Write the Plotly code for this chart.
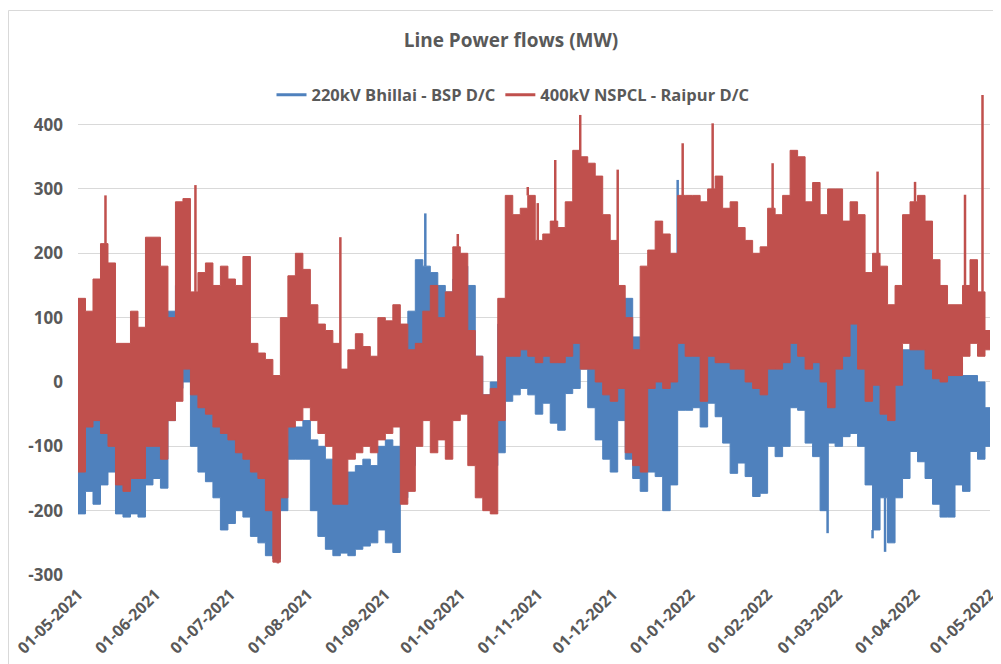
import datetime as dt
import plotly.graph_objects as go

# ---- data (one value per 3-day bin starting 01-05-2021) ----
start_date = dt.date(2021, 5, 1)
bin_days = 3

red_hi = [130, 110, 160, 215, 185, 60, 60, 110, 85, 225,
          225, 180, 100, 280, 285, 140, 170, 185, 150, 180,
          160, 150, 195, 60, 45, 35, 10, 100, 165, 200,
          175, 120, 90, 80, 60, 20, 50, 75, 55, 40,
          100, 95, 120, 90, 50, 60, 110, 150, 100, 140,
          210, 200, 80, 40, -20, -10, 130, 290, 260, 270,
          290, 220, 230, 250, 240, 280, 360, 350, 340, 320,
          260, 220, 150, 100, 50, 180, 205, 250, 230, 200,
          290, 290, 290, 280, 300, 320, 270, 280, 240, 220,
          200, 210, 270, 260, 290, 360, 350, 280, 310, 260,
          300, 300, 250, 280, 260, 170, 200, 180, 120, 150,
          260, 280, 290, 250, 190, 150, 120, 120, 150, 190,
          140, 80]
red_lo = [-140, -70, -60, -80, -100, -160, -170, -150, -150, -100,
          -100, -120, -60, -30, 20, -20, -40, -50, -70, -80,
          -90, -110, -120, -140, -150, -200, -280, -180, -70, -60,
          -40, -60, -80, -100, -190, -190, -120, -110, -100, -110,
          -90, -80, -70, -190, -170, -100, -60, -110, -90, -120,
          -60, -50, -130, -180, -200, -205, -60, 40, 40, 50,
          40, 30, 40, 30, 30, 40, 60, 20, 20, 0,
          -20, -30, -10, -110, -130, -140, -10, 0, -10, 0,
          60, 40, 40, -30, 40, 30, 30, 20, 20, 0,
          -10, -20, 20, 20, 30, 60, 40, 20, 30, 0,
          -40, 20, 40, 90, 20, -30, -5, -50, -60, -5,
          60, 50, 50, 20, 5, 0, 10, 10, 40, 60,
          40, 50]
blue_hi = [-60, -20, -40, -50, -40, -100, -100, -90, -100, -60,
           50, 60, 110, 150, 60, 20, -20, -30, -40, -50,
           -60, -80, -100, -120, -130, -140, -150, -100, -70, -70,
           -60, -90, -100, -120, -130, -140, -140, -130, -120, -130,
           -100, -90, -100, 60, 110, 190, 180, 170, 150, 140,
           160, 180, 150, 40, -20, 0, 90, 70, 70, 90,
           100, 60, 60, 50, 60, 80, 100, 110, 170, 150,
           110, 80, 130, 130, 70, 50, 40, 40, 30, 30,
           100, 80, 70, 40, 140, 150, 120, 100, 90, 60,
           50, 50, 80, 100, 100, 150, 140, 100, 90, 60,
           40, 60, 80, 90, 60, 20, 20, 0, -20, 30,
           50, 60, 70, 40, 20, 10, 20, 30, 10, 10,
           0, -40]
blue_lo = [-205, -170, -190, -160, -140, -205, -210, -205, -210, -160,
           -150, -165, -60, -10, 0, -100, -140, -155, -180, -230,
           -220, -200, -210, -240, -250, -270, -275, -200, -120, -120,
           -120, -200, -240, -260, -270, -266, -270, -260, -255, -250,
           -230, -250, -265, -180, -130, -60, -40, -40, -30, -50,
           -30, -20, -40, -120, -150, -130, -110, -30, -20, -10,
           -20, -50, -33, -64, -75, -18, -10, 20, -40, -90,
           -120, -140, -60, -120, -150, -170, -140, -147, -200, -160,
           -44, -44, -40, -70, -33, -54, -95, -142, -126, -147,
           -178, -173, -100, -116, -100, -40, -44, -95, -116, -200,
           -95, -100, -85, -80, -100, -160, -230, -180, -250, -180,
           -150, -108, -124, -150, -190, -210, -210, -160, -170, -108,
           -120, -100]

# narrow single-day spikes (day offset from 01-05-2021, value in MW)
red_spike_days = [11, 47, 80, 105, 152, 180, 184, 191, 201, 216, 242, 254, 278, 320, 335, 355, 362]
red_spike_vals = [290, 306, -282, 225, 230, 303, 278, 345, 415, 330, 371, 402, 340, 327, 311, 291, 446]
blue_spike_days = [139, 240, 300, 318, 323]
blue_spike_vals = [262, 314, -235, -243, -264]

series_names = ["220kV Bhillai - BSP D/C", "400kV NSPCL - Raipur D/C"]
colors = ["#4F81BD", "#C0504D"]
tick_values = [-300, -200, -100, 0, 100, 200, 300, 400]
tick_dates = ["2021-05-01", "2021-06-01", "2021-07-01", "2021-08-01", "2021-09-01",
              "2021-10-01", "2021-11-01", "2021-12-01", "2022-01-01", "2022-02-01",
              "2022-03-01", "2022-04-01", "2022-05-01"]
end_date = dt.date(2022, 5, 1)

# ---- build ----
n = len(red_hi)
dates = [start_date + dt.timedelta(days=bin_days * i) for i in range(n)] + [end_date]


def closed(v):
    return list(v) + [v[-1]]


def spike_xy(days, vals, hi, lo):
    xs, ys = [], []
    for d, v in zip(days, vals):
        i = min(d // bin_days, n - 1)
        base = hi[i] if v > hi[i] else lo[i]
        day = start_date + dt.timedelta(days=d)
        xs += [day, day, None]
        ys += [base, v, None]
    return xs, ys


fig = go.Figure()

# legend entries (line samples)
for name, c in zip(series_names, colors):
    fig.add_trace(go.Scatter(x=[None], y=[None], mode="lines", name=name,
                             line=dict(color=c, width=3)))

bands = [(blue_lo, blue_hi, blue_spike_days, blue_spike_vals, colors[0]),
         (red_lo, red_hi, red_spike_days, red_spike_vals, colors[1])]
for lo, hi, sd, sv, c in bands:
    fig.add_trace(go.Scatter(x=dates, y=closed(lo), mode="lines", line=dict(color=c, width=1, shape="hv"),
                             showlegend=False, hoverinfo="skip"))
    fig.add_trace(go.Scatter(x=dates, y=closed(hi), mode="lines", line=dict(color=c, width=1, shape="hv"),
                             fill="tonexty", fillcolor=c, showlegend=False, hoverinfo="skip"))
    sx, sy = spike_xy(sd, sv, hi, lo)
    fig.add_trace(go.Scatter(x=sx, y=sy, mode="lines", line=dict(color=c, width=2.5),
                             showlegend=False, hoverinfo="skip"))

font_family = "Open Sans"
txt = "#595959"
grid = "#D9D9D9"

# the page adds an 8px body margin; figure pixel = window pixel - 8
W, H = 993, 656
plot_l, plot_r, plot_t, plot_b = 70, 982, 78, 567
plot_h = plot_b - plot_t

fig.update_layout(
    template="none",
    width=W, height=H,
    paper_bgcolor="white", plot_bgcolor="white",
    margin=dict(l=plot_l, r=W - plot_r, t=plot_t, b=H - plot_b, pad=0),
    title=dict(text="Line Power flows (MW)", x=503 / W, xanchor="center", y=1 - 32 / H, yanchor="middle",
               font=dict(family=font_family, size=19, color=txt, weight="bold")),
    legend=dict(orientation="h", x=(505 - plot_l) / (plot_r - plot_l), xanchor="center",
                y=(plot_b - 87) / plot_h, yanchor="middle",
                font=dict(family=font_family, size=16.5, color=txt, weight="bold"),
                bgcolor="rgba(0,0,0,0)", traceorder="normal", itemwidth=30),
    showlegend=True,
    font=dict(family=font_family, color=txt),
)
fig.update_yaxes(range=[-300, 460], tickvals=tick_values, ticktext=[str(v) for v in tick_values],
                 showgrid=True, gridcolor=grid, gridwidth=1,
                 zeroline=False, showline=False, ticks="", ticklabelstandoff=14, automargin=False,
                 tickfont=dict(family=font_family, size=17, color=txt, weight="bold"))
fig.update_xaxes(type="date", range=[start_date, end_date], tickvals=tick_dates, tickformat="%d-%m-%Y",
                 tickangle=-45, showgrid=False, zeroline=False, showline=False, ticks="",
                 ticklabelstandoff=6, automargin=False, ticklabeloverflow="allow",
                 tickfont=dict(family=font_family, size=16, color=txt, weight="bold"))

# outer chart border (top and left edges visible, the rest runs off the picture)
fig.add_shape(type="rect", xref="paper", yref="paper",
              x0=(0.5 - plot_l) / (plot_r - plot_l), x1=(W + 20 - plot_l) / (plot_r - plot_l),
              y0=(plot_b - H - 20) / plot_h, y1=(plot_b - 2.5) / plot_h,
              line=dict(color="#D9D9D9", width=1), fillcolor="rgba(0,0,0,0)", layer="below")

fig.write_html("out.html")
